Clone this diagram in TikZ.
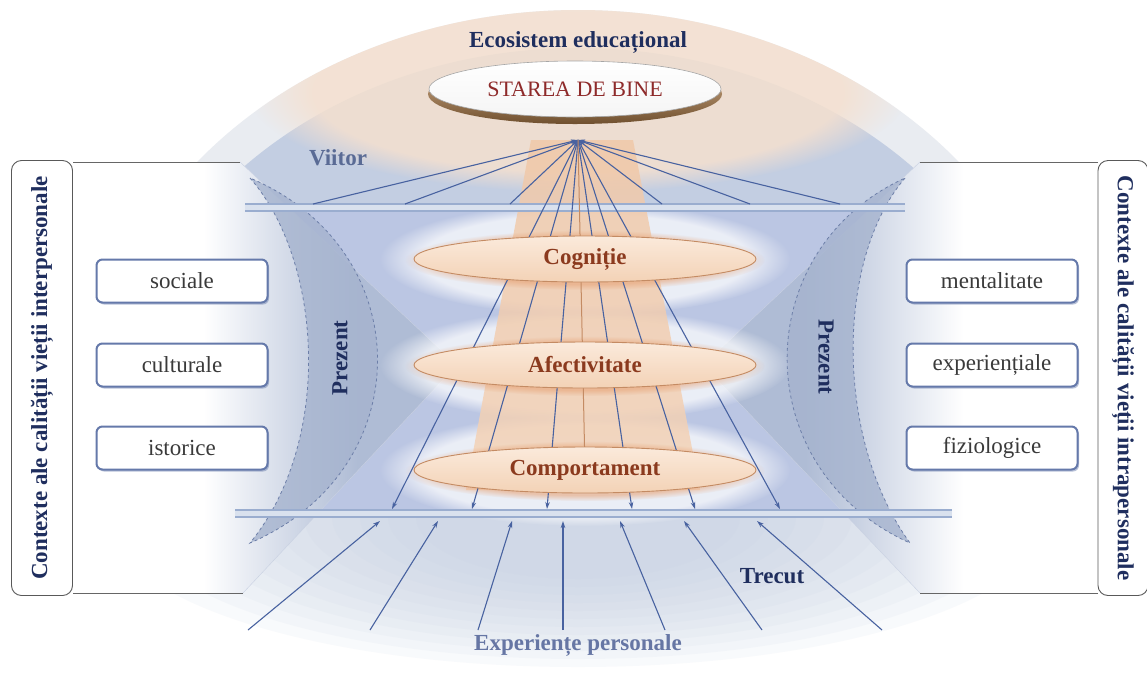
\documentclass[tikz,border=0pt]{standalone}
\usepackage{fontspec}
\setmainfont{Liberation Serif}
\usetikzlibrary{arrows.meta,shapes.geometric,shadows,fadings}

\definecolor{navy}{HTML}{1F2E5E}
\definecolor{steel}{HTML}{5A6B95}
\definecolor{expblue}{HTML}{6676A4}
\definecolor{arrowblue}{HTML}{4862A0}
\definecolor{domegray}{HTML}{E9ECF1}
\definecolor{skyblue}{HTML}{C3CEE2}
\definecolor{peach}{HTML}{F5E0CF}
\definecolor{wedgeblue}{HTML}{AFBCD5}
\definecolor{wedgeline}{HTML}{C9D1E2}
\definecolor{moonblue}{HTML}{A5B3CE}
\definecolor{dashblue}{HTML}{6C7EA8}
\definecolor{fantop}{HTML}{F0C8A8}
\definecolor{fanbot}{HTML}{F4D3B8}
\definecolor{glow}{HTML}{E7A57A}
\definecolor{eggtop}{HTML}{FBEADB}
\definecolor{eggfill}{HTML}{F3D2B6}
\definecolor{eggrim}{HTML}{C48B63}
\definecolor{brownred}{HTML}{8B3A1E}
\definecolor{winered}{HTML}{8E2A2A}
\definecolor{boxrim}{HTML}{6579AA}
\definecolor{inkgray}{HTML}{3A3A3A}
\definecolor{bandfill}{HTML}{D9E1EE}
\definecolor{bandline}{HTML}{9AADCF}
\definecolor{rimlight}{HTML}{D8B48E}
\definecolor{rimdark}{HTML}{70502F}

\pgfdeclarehorizontalshading{panelL}{100bp}{color(0bp)=(white); color(42bp)=(white);
  color(62bp)=(wedgeblue); color(100bp)=(wedgeblue)}
\pgfdeclarehorizontalshading{panelR}{100bp}{color(0bp)=(wedgeblue); color(38bp)=(wedgeblue);
  color(58bp)=(white); color(100bp)=(white)}

\begin{document}
\begin{tikzpicture}[x=1pt,y=-1pt,
    ray/.style={draw=arrowblue, line width=1.1pt, -{Stealth[length=7pt,width=4.5pt]}},
    egg/.style={ellipse, draw=eggrim, line width=0.9pt, top color=eggtop, bottom color=eggfill,
        minimum width=342pt, minimum height=46pt, inner sep=0pt, text=brownred,
        font=\bfseries\fontsize{23}{26}\selectfont},
    ctx/.style={rectangle, rounded corners=6pt, draw=boxrim, line width=2pt, fill=white,
        minimum width=171pt, minimum height=43pt, text=inkgray, font=\fontsize{23}{26}\selectfont,
        drop shadow={shadow xshift=1.5pt, shadow yshift=-2pt, fill=boxrim, opacity=.45}},
    sidebar/.style={rectangle, rounded corners=10pt, draw=black!65, line width=0.9pt, fill=white,
        minimum width=435pt, inner sep=0pt, text=navy, font=\bfseries\fontsize{23}{26}\selectfont},
    titletext/.style={text=navy, font=\bfseries\fontsize{23}{26}\selectfont},
    moon/.style={fill=moonblue, fill opacity=.8, draw=dashblue, dashed, line width=0.8pt},
    band/.style={draw=bandline, line width=1.3pt}
]
\useasboundingbox (0,0) rectangle (1147,681);
\fill[white] (0,0) rectangle (1147,681);

% the dome
\fill[domegray] (578,420) ellipse [x radius=490, y radius=410];
\fill[skyblue] (578,440) ellipse [x radius=466, y radius=392];
\begin{scope}
  \clip (578,420) ellipse [x radius=490, y radius=410];
  \fill[peach, opacity=.85, path fading=circle with fuzzy edge 20 percent] (578,92) ellipse [x radius=330, y radius=100];
\end{scope}
\fill[skyblue!85!blue, opacity=.25] (245,204) rectangle (905,517);
% floor under the lower band
\fill[white] (-5,517) rectangle (1152,700);
\begin{scope}
  \clip (0,517) rectangle (1147,681);
  \foreach \k in {0,...,11}
    \fill[skyblue, opacity=.1] (578,517) ellipse [x radius=470-28*\k, y radius=150-8*\k];
\end{scope}

% side panels
\shade[shading=panelL] (73,162) -- (240,162) -- (457,365) -- (243,593) -- (73,593) -- cycle;
\shade[shading=panelR] (1098,162) -- (920,162) -- (703,365) -- (920,593) -- (1098,593) -- cycle;
\draw[wedgeline] (240,162) -- (457,365) -- (243,593);
\draw[wedgeline] (920,162) -- (703,365) -- (920,593);
\draw[black!60, line width=.8pt] (73,162) -- (240,162) (73,593) -- (243,593);
\draw[black!60, line width=.8pt] (1098,162) -- (920,162) (1098,593) -- (920,593);

% present
\draw[moon] (250,178) .. controls (322,260) and (334,440) .. (250,543)
    .. controls (420,470) and (420,250) .. (250,178) -- cycle;
\draw[moon] (905,178) .. controls (835,260) and (835,440) .. (910,543)
    .. controls (747,470) and (747,250) .. (905,178) -- cycle;

% glows and fan
\foreach \y in {259,365,470}
  \fill[white, opacity=.7, path fading=circle with fuzzy edge 20 percent] (585,\y) ellipse [x radius=205, y radius=56];
\shade[top color=fantop, bottom color=fanbot, opacity=.85] (531,140) -- (633,140) -- (700,490) -- (466,490) -- cycle;
\foreach \y in {259,365,470}
  \fill[glow, opacity=.6, path fading=circle with fuzzy edge 20 percent] (585,\y+1) ellipse [x radius=180, y radius=30];

% bands
\fill[bandfill] (245,204) rectangle (905,211);
\draw[band] (245,204) -- (905,204) (245,211) -- (905,211);
\fill[bandfill] (235,510) rectangle (952,517);
\draw[band] (235,510) -- (952,510) (235,517) -- (952,517);

% arrows
\coordinate (apex) at (578,140);
\foreach \n/\x in {1/313,2/405,3/510,4/662,5/750,6/840}
  \coordinate (up\n) at (\x,204);
\foreach \n/\x in {1/392,2/472,3/547,4/632,5/695,6/780}
  \coordinate (low\n) at (\x,509);
\foreach \n in {1,...,6} {
  \draw[ray] (up\n) -- (apex);
  \draw[ray] (apex) -- (low\n);
}
\coordinate (mid) at (585,470);
\draw[eggrim, line width=1pt] (apex) -- (mid);
\foreach \n/\a/\b in {1/248/380,2/370/438,3/478/512,4/563/563,5/665/620,6/762/684,7/882/757} {
  \coordinate (src\n) at (\a,630);
  \coordinate (dst\n) at (\b,521);
  \draw[ray] (src\n) -- (dst\n);
}

% levels
\node[egg] (cog) at (585,259) {Cogniție};
\node[egg] (afe) at (585,365) {Afectivitate};
\node[egg] (comp) at (585,470) {Comportament};

% well-being
\shade[top color=rimlight, bottom color=rimdark] (575,94) ellipse [x radius=147, y radius=30];
\node[ellipse, draw=black!35, line width=.6pt, top color=white, bottom color=black!4,
    minimum width=292pt, minimum height=56pt, inner sep=0pt, text=winered,
    font=\fontsize{22}{25}\selectfont] (bine) at (575,89) {STAREA DE BINE};

\node[titletext] (eco) at (578,42) {Ecosistem educațional};
\node[titletext, text=steel] (viitor) at (338,158) {Viitor};
\node[titletext, rotate=90] (prezL) at (340,358) {Prezent};
\node[titletext, rotate=-90] (prezR) at (826,357) {Prezent};
\node[titletext] (trecut) at (772,576) {Trecut};
\node[titletext, text=expblue] (exper) at (578,645) {Experiențe personale};

% contexts
\node[sidebar, rotate=90, minimum height=61pt] (inter) at (42,378) {Contexte ale calității vieții interpersonale};
\node[sidebar, rotate=-90, minimum height=50pt] (intra) at (1123,378) {Contexte ale calității vieții intrapersonale};
\node[ctx] (soc) at (182,281) {sociale};
\node[ctx] (cul) at (182,365) {culturale};
\node[ctx] (ist) at (182,448) {istorice};
\node[ctx] (men) at (992,281) {mentalitate};
\node[ctx] (exp) at (992,365) {experiențiale};
\node[ctx] (fiz) at (992,448) {fiziologice};
\end{tikzpicture}
\end{document}
